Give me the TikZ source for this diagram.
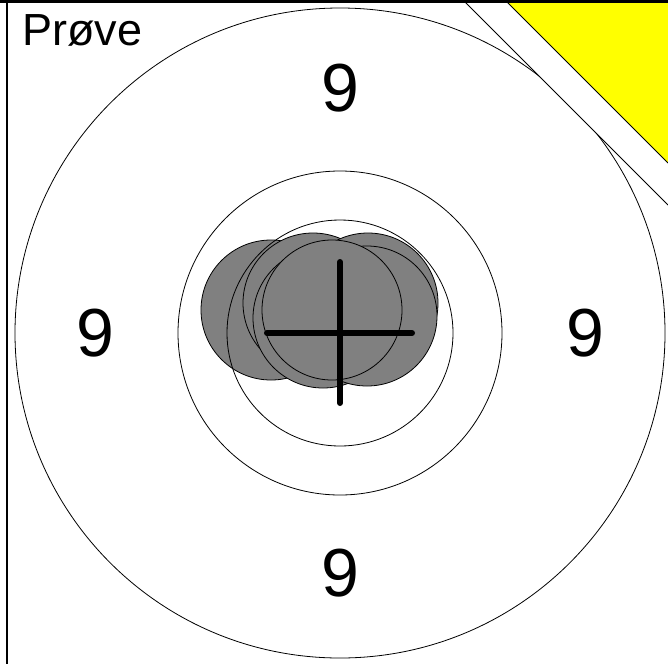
\documentclass[tikz,border=0pt]{standalone}
\usepackage{fontspec}
\setmainfont{Liberation Sans}
\usepackage{tikz}
\usetikzlibrary{calc}
\definecolor{shotgray}  {HTML}{808080}
\definecolor{flagyellow}{HTML}{FFFF00}
\definecolor{inkline}   {HTML}{000000}
\tikzset{
  ring/.style={draw=inkline, line width=0.8pt},
  shot/.style={draw=inkline, fill=shotgray, line width=0.8pt},
  hitcross/.style={draw=inkline, line width=6pt, line cap=round},
  scorelabel/.style={font=\fontsize{68}{68}\selectfont, inner sep=0pt, text=inkline},
  titlelabel/.style={font=\fontsize{45}{45}\selectfont, inner sep=0pt, text=inkline},
  cornertag/.style={fill=#1, draw=none},
  frameline/.style={draw=inkline, line width=#1}
}

\begin{document}
\begin{tikzpicture}[x=1pt, y=-1pt]
  \useasboundingbox[fill=white] (0,0) rectangle (668,664);
  \coordinate (ctr) at (340,333);

  \foreach \sx/\sy in {271/310, 313/303, 323/318, 368/303, 367/316, 332/310}{
    \draw[shot] (\sx,\sy) circle[radius=70pt];
  }
  \foreach \r in {325, 162, 113}{
    \draw[ring] (ctr) circle[radius=\r pt];
  }

  \draw[hitcross] ($(ctr)+(-73,0)$) -- ($(ctr)+(72,0)$);
  \draw[hitcross] ($(ctr)+(0,-71)$) -- ($(ctr)+(0,70)$);

  \coordinate (tagA) at (465,2);
  \coordinate (tagB) at (668,205);
  \coordinate (flagA) at (507,2);
  \coordinate (flagB) at (668,163);
  \fill[cornertag=white] (tagA) -- (tagB) -- (668,0) -- (465,0) -- cycle;
  \draw[frameline=0.8pt] (tagA) -- (tagB);
  \fill[cornertag=flagyellow] (flagA) -- (flagB) -- (668,2) -- cycle;
  \draw[frameline=0.8pt] (flagA) -- (flagB);

  \draw[frameline=2.5pt] (0,1.5) -- (668,1.5);
  \draw[frameline=1.5pt] (7,1.5) -- (7,664);

  \node[titlelabel, anchor=base west] (title) at (22,45) {Prøve};
  \node[scorelabel] (ntop)   at (340,88)  {9};
  \node[scorelabel] (nleft)  at (95,333)  {9};
  \node[scorelabel] (nright) at (585,333) {9};
  \node[scorelabel] (nbot)   at (340,573) {9};
\end{tikzpicture}
\end{document}
